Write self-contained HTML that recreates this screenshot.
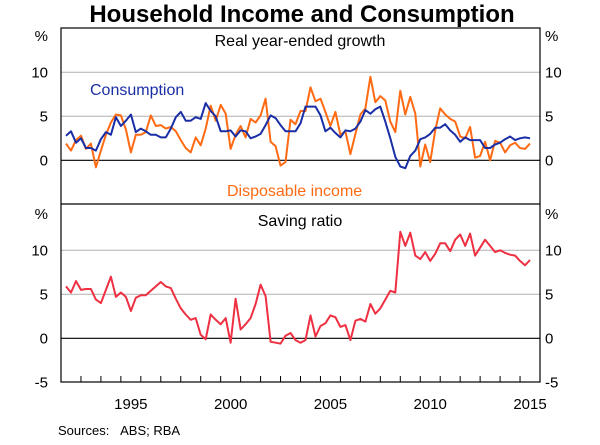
<!DOCTYPE html>
<html><head><meta charset="utf-8"><style>
body{margin:0;background:#fff;width:600px;height:440px;overflow:hidden;font-family:"Liberation Sans",sans-serif}
svg text{font-family:"Liberation Sans",sans-serif}
</style></head><body>
<svg id="chart" width="600" height="440" viewBox="0 0 600 440" xmlns="http://www.w3.org/2000/svg"></svg>
<script>
const consumption=[2.8,3.3,2.0,2.5,1.4,1.4,1.1,2.4,3.2,2.9,4.9,3.9,4.5,5.2,3.2,3.6,3.3,2.9,2.9,2.6,2.6,3.6,4.9,5.5,4.5,4.5,4.9,4.7,6.5,5.6,5.0,3.3,3.3,3.4,2.7,3.4,3.3,2.5,2.7,3.0,4.0,5.1,4.8,4.0,3.3,3.3,
3.3,4.2,6.1,6.1,6.1,5.1,3.3,3.7,3.1,2.6,3.4,3.3,3.6,4.4,5.7,5.3,5.8,6.1,4.4,2.5,0.4,-0.7,-0.9,0.5,1.1,2.4,2.6,3.0,3.7,3.7,4.1,3.4,2.9,2.1,2.6,2.3,2.3,2.3,1.4,1.4,1.8,2.0,2.4,2.7,2.3,2.5,2.6,2.5];
const income=[1.9,1.1,2.3,2.8,1.3,1.9,-0.8,1.1,2.9,4.3,5.2,5.1,3.5,0.9,2.9,2.9,3.2,5.1,3.9,4.0,3.6,3.8,3.3,2.3,1.4,0.9,2.6,1.7,3.6,6.2,4.5,6.3,5.3,1.3,2.9,3.9,2.6,4.7,4.3,5.1,7.0,2.1,1.6,-0.6,-0.2,4.6,
4.1,5.6,5.6,8.3,6.7,7.0,5.5,3.9,5.5,2.9,3.3,0.7,3.0,5.2,5.9,9.5,6.6,7.3,6.8,4.4,3.2,7.9,5.2,7.2,5.3,-0.7,1.8,-0.2,3.4,5.9,5.2,4.7,4.4,2.7,
2.5,3.8,0.3,0.5,2.1,0.0,2.2,2.0,0.9,1.7,2.0,1.4,1.3,1.9];
const saving=[5.9,5.2,6.5,5.5,5.6,5.6,4.4,4.0,5.5,7.0,4.7,5.2,4.7,3.1,4.6,4.9,4.9,5.4,5.9,6.4,5.9,5.7,4.5,3.4,2.7,2.1,2.3,0.4,-0.1,2.7,2.1,1.6,2.3,-0.5,4.5,1.0,1.6,2.3,3.9,6.1,4.8,-0.4,-0.5,-0.6,0.3,0.6,-0.2,-0.5,-0.2,2.6,0.2,1.4,1.7,2.6,2.4,1.3,1.5,-0.2,2.0,2.2,1.9,3.9,2.8,3.4,4.4,5.4,5.2,12.1,10.5,12.0,9.4,9.0,9.8,8.8,9.6,10.8,10.8,9.9,11.2,11.8,10.5,11.9,9.4,10.3,11.2,10.5,9.8,10.0,9.7,9.5,9.4,8.8,8.3,8.9];
const startYear=1992.25;
const yearLabels=[1995,2000,2005,2010,2015];
const yTicksTop=[10,5,0];
const yTicksBottom=[10,5,0,-5];

const svg=document.getElementById('chart');
const NS='http://www.w3.org/2000/svg';
const L=61,R=540,T=28,MID=204,B=382;
const x=y=>L+(y-1992)*(R-L)/24;
const yTop=v=>160.3-v*8.8;
const yBot=v=>338.3-v*8.8;
function el(tag,attrs,parent){const e=document.createElementNS(NS,tag);for(const k in attrs)e.setAttribute(k,attrs[k]);(parent||svg).appendChild(e);return e;}
function txt(s,attrs){const t=el('text',attrs);t.textContent=s;return t;}

let t=txt('Household Income and Consumption',{x:302,y:22,'text-anchor':'middle','font-size':24,'font-weight':'bold',fill:'#000'});


yTicksTop.forEach(v=>{let g=el('line',{x1:L,x2:R,y1:yTop(v),y2:yTop(v),stroke:v===0?'#000':'#b0b0b0','stroke-width':v===0?1.2:1});
});
yTicksBottom.slice(0,3).forEach(v=>{let g=el('line',{x1:L,x2:R,y1:yBot(v),y2:yBot(v),stroke:v===0?'#000':'#b0b0b0','stroke-width':v===0?1.2:1});
});

let f=el('rect',{x:L,y:T,width:R-L,height:B-T,fill:'none',stroke:'#000','stroke-width':1.2});

let d=el('line',{x1:L,x2:R,y1:MID,y2:MID,stroke:'#000','stroke-width':1.2});


for(let yr=1993;yr<=2015;yr++){let k=el('line',{x1:x(yr),x2:x(yr),y1:B,y2:B-6,stroke:'#000','stroke-width':1});
}
yearLabels.forEach(yr=>{let l=txt(String(yr),{x:x(yr+0.5),y:409,'text-anchor':'middle','font-size':15,fill:'#000'});
});

function ylab(s,yy,side,name){let l=txt(s,{x:side==='l'?48:545,y:yy+5,'text-anchor':side==='l'?'end':'start','font-size':15,fill:'#000'});
}
ylab('%',36,'l','top-left-unit');ylab('%',36,'r','top-right-unit');
yTicksTop.forEach(v=>{ylab(String(v),yTop(v),'l','top-left-tick-label');ylab(String(v),yTop(v),'r','top-right-tick-label');});
ylab('%',214,'l','bottom-left-unit');ylab('%',214,'r','bottom-right-unit');
yTicksBottom.forEach(v=>{ylab(String(v),yBot(v),'l','bottom-left-tick-label');ylab(String(v),yBot(v),'r','bottom-right-tick-label');});

function line(data,fy,color,name){const pts=data.map((v,i)=>x(startYear+i*0.25).toFixed(1)+','+fy(v).toFixed(1)).join(' ');
let p=el('polyline',{points:pts,fill:'none',stroke:color,'stroke-width':2,'stroke-linejoin':'round'});
}
line(income,yTop,'#ff6a13','disposable-income-line');
line(consumption,yTop,'#1a2ea6','consumption-line');
line(saving,yBot,'#ee3042','saving-ratio-line');

let a=txt('Real year-ended growth',{x:300,y:46,'text-anchor':'middle','font-size':16,fill:'#000'});

a=txt('Consumption',{x:90,y:95,'font-size':16,fill:'#1a2ea6'});

a=txt('Disposable income',{x:227,y:196,'font-size':16,fill:'#ff6a13'});

a=txt('Saving ratio',{x:300,y:226,'text-anchor':'middle','font-size':16,fill:'#000'});

a=txt('Sources:\u00a0\u00a0\u00a0ABS; RBA',{x:58,y:435,'font-size':13,fill:'#000'});

</script>
</body></html>
